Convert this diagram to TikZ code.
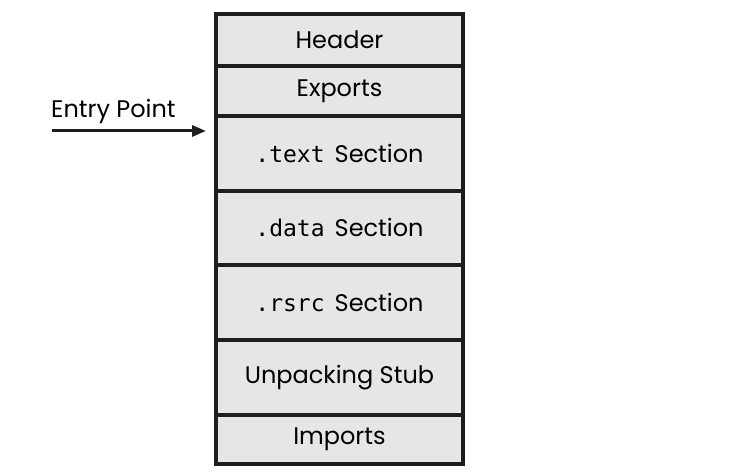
\documentclass[tikz,border=0pt]{standalone}
\usepackage{fontspec}
\setmainfont{Poppins}
\newfontfamily\codefont{DejaVu Sans Mono}
\usetikzlibrary{arrows.meta}
\definecolor{cellgray}{HTML}{E6E6E6}
\definecolor{edge}{HTML}{1E1E1E}
\newcommand{\cd}[1]{{\codefont\fontsize{23}{26}\selectfont #1}\hspace*{10pt}}
\tikzset{
  cell/.style={draw=edge, fill=cellgray, line width=4pt, minimum width=247pt, inner sep=0pt, anchor=north west, font=\fontsize{24}{26}\selectfont},
}
\begin{document}
\begin{tikzpicture}[x=1pt,y=1pt]
\useasboundingbox (0,0) rectangle (732,470);
\def\X{214}
\node[cell, minimum height=52pt] (header) at (\X,458) {Header};
\node[cell, minimum height=50pt] (exports) at (\X,406) {Exports};
\node[cell, minimum height=75pt] (text) at (\X,356) {\cd{.text}Section};
\node[cell, minimum height=74pt] (data) at (\X,281) {\cd{.data}Section};
\node[cell, minimum height=75pt] (rsrc) at (\X,207) {\cd{.rsrc}Section};
\node[cell, minimum height=75pt] (stub) at (\X,132) {Unpacking Stub};
\node[cell, minimum height=49pt] (imports) at (\X,57) {Imports};
\coordinate (start) at (52,339);
\coordinate (tip) at (206,339);
\draw[edge, line width=3pt, -{Triangle[length=14pt,width=11pt]}] (start) -- (tip);
\node[anchor=base west, inner sep=0pt, font=\fontsize{24}{26}\selectfont] (entry) at (51,352) {Entry Point};
\end{tikzpicture}
\end{document}
